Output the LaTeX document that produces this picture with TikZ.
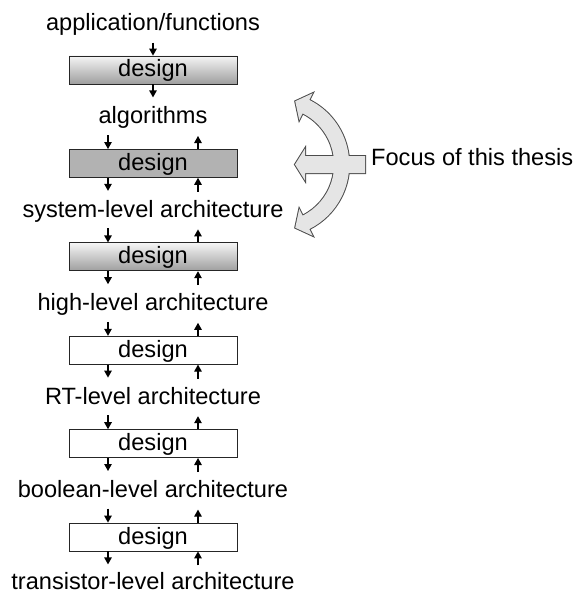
\documentclass[tikz,border=0pt]{standalone}
\usepackage{fontspec}
\setmainfont{Liberation Sans}
\usetikzlibrary{arrows.meta,calc}
\definecolor{bandfill}{gray}{0.90}
\definecolor{bandline}{gray}{0.30}
\begin{document}
\begin{tikzpicture}[x=1pt,y=-1pt,
  font=\fontsize{23.6pt}{28pt}\selectfont,
  designbox/.style={draw=black!85, line width=0.8pt, minimum width=168pt,
    minimum height=28pt, inner sep=0pt, text height=18pt, text depth=4pt},
  graded/.style={top color=black!4, bottom color=black!38},
  solidgray/.style={fill=black!30},
  levellabel/.style={anchor=base, inner sep=0pt},
  arr/.style={-{Triangle[length=7pt,width=7.5pt]}, line width=1.2pt}]
\useasboundingbox (0,0) rectangle (580,594);

% abstraction levels and design steps
\node[levellabel] (l0) at (153,30.5) {application/functions};
\node[designbox,graded] (d1) at (153,70) {design};
\node[levellabel] (l1) at (153,123.9) {algorithms};
\node[designbox,solidgray] (d2) at (153,163.4) {design};
\node[levellabel] (l2) at (153,217.3) {system-level architecture};
\node[designbox,graded] (d3) at (153,256.8) {design};
\node[levellabel] (l3) at (153,310.7) {high-level architecture};
\node[designbox] (d4) at (153,350.2) {design};
\node[levellabel] (l4) at (153,404.1) {RT-level architecture};
\node[designbox] (d5) at (153,443.6) {design};
\node[levellabel] (l5) at (153,497.5) {boolean-level architecture};
\node[designbox] (d6) at (153,537) {design};
\node[levellabel] (l6) at (153,589.6) {transistor-level architecture};

% top step: one way only
\draw[arr] ([yshift=13pt]d1.north) -- (d1.north);
\draw[arr] (d1.south) -- ([yshift=-13pt]d1.south);

% lower steps: refinement down on the left, feedback up on the right
\foreach \d in {d2,d3,d4,d5,d6}{
  \draw[arr] ([shift={(-45pt,14pt)}]\d.north) -- ([xshift=-45pt]\d.north);
  \draw[arr] ([xshift=45pt]\d.north) -- ([shift={(45pt,13pt)}]\d.north);
  \draw[arr] ([xshift=-45pt]\d.south) -- ([shift={(-45pt,-13pt)}]\d.south);
  \draw[arr] ([shift={(45pt,-14pt)}]\d.south) -- ([xshift=45pt]\d.south);
}

% focus marker: curved two-headed arrow with a left-pointing arrow through it
\coordinate (C) at (277,164.5);
\def\bandpath{
  ($(C)+(-63.4:72.2)$) arc[start angle=-63.4, end angle=63.4, radius=72.2]
  -- ($(C)+(63.4:79.7)$)
  -- ($(C)+(63.4:64.7)+(153.4:12)$)
  -- ($(C)+(63.4:49.7)$)
  -- ($(C)+(63.4:57.2)$)
  arc[start angle=63.4, end angle=-63.4, radius=57.2]
  -- ($(C)+(-63.4:49.7)$)
  -- ($(C)+(-63.4:64.7)+(-153.4:12)$)
  -- ($(C)+(-63.4:79.7)$) -- cycle}
\def\pointerpath{
  (365,156) -- (305,156) -- (305,148.5) -- (295,164.5) -- (305,180.5)
  -- (305,173) -- (365,173) -- cycle}
\draw[bandline, line width=2pt] \bandpath;
\draw[bandline, line width=2pt] \pointerpath;
\fill[bandfill] \bandpath;
\fill[bandfill] \pointerpath;

\node[anchor=base west, inner sep=0pt] (focus) at (371,165) {Focus of this thesis};
\end{tikzpicture}
\end{document}
